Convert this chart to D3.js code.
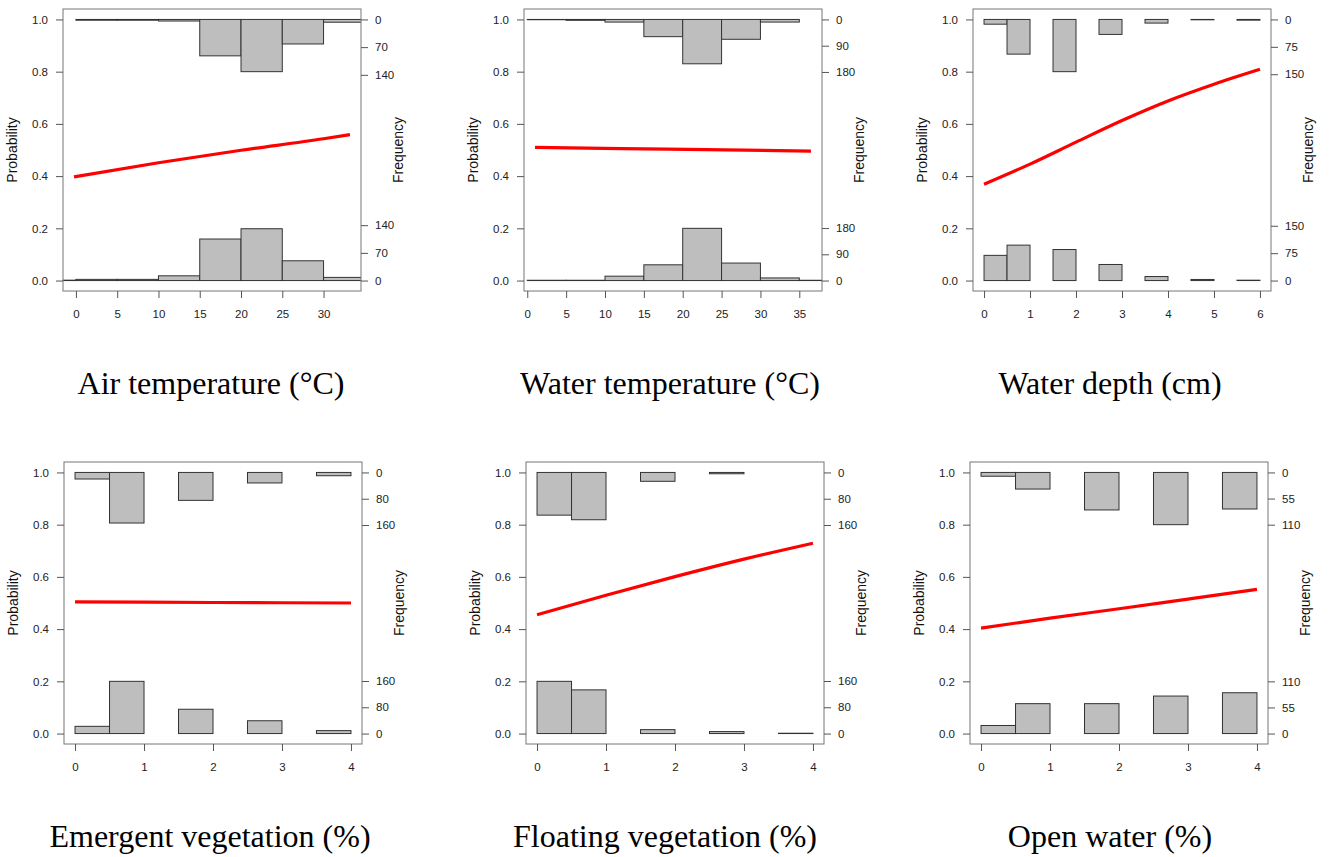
<!DOCTYPE html>
<html>
<head>
<meta charset="utf-8">
<script src="https://cdn.jsdelivr.net/npm/d3@7/dist/d3.min.js"></script>
<style>
  body { margin: 0; background: #fff; }
  text { font-family: "Liberation Sans", Arial, sans-serif; }
</style>
</head>
<body>
<svg id="chart" width="1330" height="857"></svg>
<script>
/*********************
	Data
**********************/
var titles = ["Air temperature (\u00B0C)", "Water temperature (\u00B0C)", "Water depth (cm)",
              "Emergent vegetation (%)", "Floating vegetation (%)", "Open water (%)"];

// min / max of the predictor (sets the x range like R does)
var dataRange = [[-0.23, 33.2], [1.0, 36.5], [0, 6], [0, 4], [0, 4], [0, 4]];

var breaks1 = [-5, 0, 5, 10, 15, 20, 25, 30, 35];
var breaks2 = [0, 5, 10, 15, 20, 25, 30, 35, 40];
var breaks3 = [0, 0.5, 1, 1.5, 2, 2.5, 3, 3.5, 4, 4.5, 5, 5.5, 6];
var breaks4 = [0, 0.5, 1, 1.5, 2, 2.5, 3, 3.5, 4];

// counts of absences (bottom histogram) and presences (top histogram)
var absent1 = [1, 3, 3, 12, 105, 131, 50, 8];
var present1 = [0, 2, 2, 4, 92, 132, 62, 7];
var absent2 = [1, 1, 15, 54, 179, 60, 9, 1];
var present2 = [1, 3, 9, 59, 152, 68, 9, 0];
var absent3 = [69, 97, 0, 85, 0, 44, 0, 11, 0, 3, 0, 1];
var present3 = [13, 95, 0, 143, 0, 41, 0, 10, 0, 1, 0, 2];
var absent4 = [22, 159, 0, 74, 0, 39, 0, 9];
var present4 = [20, 154, 0, 85, 0, 32, 0, 10];
var absent5 = [159, 133, 0, 12, 0, 6, 0, 1];
var present5 = [130, 144, 0, 27, 0, 4, 0, 0];
var absent6 = [17, 63, 0, 63, 0, 79, 0, 86];
var present6 = [8, 35, 0, 79, 0, 110, 0, 77];

// fitted probability curve
var curveX1 = [-0.23, 10, 20, 30, 33.2];
var curveP1 = [0.397, 0.451, 0.499, 0.543, 0.559];
var curveX2 = [1.0, 18, 36.5];
var curveP2 = [0.510, 0.503, 0.496];
var curveX3 = [0, 1, 2, 3, 4, 5, 6];
var curveP3 = [0.369, 0.446, 0.530, 0.613, 0.688, 0.752, 0.809];
var curveX4 = [0, 2, 4];
var curveP4 = [0.504, 0.502, 0.500];
var curveX5 = [0, 1, 2, 3, 4];
var curveP5 = [0.455, 0.530, 0.601, 0.668, 0.729];
var curveX6 = [0, 1, 2, 3, 4];
var curveP6 = [0.404, 0.442, 0.478, 0.515, 0.552];

var xTicks1 = [0, 5, 10, 15, 20, 25, 30];
var xTicks2 = [0, 5, 10, 15, 20, 25, 30, 35];
var xTicks3 = [0, 1, 2, 3, 4, 5, 6];
var xTicks4 = [0, 1, 2, 3, 4];
var yTicks = [0, 0.2, 0.4, 0.6, 0.8, 1.0];

/*********************
	Layout
**********************/
var W = 298, H = 282;
var panels = [
	{left: 63, top: 9, breaks: breaks1, absent: absent1, present: present1, cx: curveX1, cp: curveP1, ticks: xTicks1, tx: 211, ty: 394},
	{left: 524, top: 9, breaks: breaks2, absent: absent2, present: present2, cx: curveX2, cp: curveP2, ticks: xTicks2, tx: 670, ty: 394},
	{left: 973, top: 9, breaks: breaks3, absent: absent3, present: present3, cx: curveX3, cp: curveP3, ticks: xTicks3, tx: 1110, ty: 394},
	{left: 64, top: 462, breaks: breaks4, absent: absent4, present: present4, cx: curveX4, cp: curveP4, ticks: xTicks4, tx: 210, ty: 847},
	{left: 526, top: 462, breaks: breaks4, absent: absent5, present: present5, cx: curveX5, cp: curveP5, ticks: xTicks4, tx: 665, ty: 847},
	{left: 970, top: 462, breaks: breaks4, absent: absent6, present: present6, cx: curveX6, cp: curveP6, ticks: xTicks4, tx: 1110, ty: 847}
];

var svg = d3.select("#chart");
var scaleHist = 5;

panels.forEach(function(p, k) {
	var lo = dataRange[k][0], hi = dataRange[k][1], r = hi - lo;
	var xs = d3.scaleLinear().domain([lo - 0.04 * r, hi + 0.04 * r]).range([0, W]);
	var ys = d3.scaleLinear().domain([-0.04, 1.04]).range([H, 0]);
	var g = svg.append("g").attr("transform", "translate(" + p.left + "," + p.top + ")");

	g.append("clipPath").attr("id", "clip" + k)
		.append("rect").attr("width", W).attr("height", H);

	var tope = d3.max(p.absent.concat(p.present));
	var bins = p.absent.map(function(c, i) {
		return {x0: p.breaks[i], x1: p.breaks[i + 1], a: c, p: p.present[i]};
	});

	var hist = g.append("g").attr("clip-path", "url(#clip" + k + ")");
	// absences, from 0 upward
	hist.selectAll("rect.abs").data(bins.filter(function(b) { return b.a > 0; }))
		.enter().append("rect").attr("class", "abs")
		.attr("x", function(b) { return xs(b.x0); })
		.attr("width", function(b) { return xs(b.x1) - xs(b.x0); })
		.attr("y", function(b) { return ys(b.a / (tope * scaleHist)); })
		.attr("height", function(b) { return ys(0) - ys(b.a / (tope * scaleHist)); })
		.attr("fill", "#bebebe").attr("stroke", "#333").attr("stroke-width", 1);
	// presences, from 1 downward
	hist.selectAll("rect.pre").data(bins.filter(function(b) { return b.p > 0; }))
		.enter().append("rect").attr("class", "pre")
		.attr("x", function(b) { return xs(b.x0); })
		.attr("width", function(b) { return xs(b.x1) - xs(b.x0); })
		.attr("y", ys(1))
		.attr("height", function(b) { return ys(1 - b.p / (tope * scaleHist)) - ys(1); })
		.attr("fill", "#bebebe").attr("stroke", "#333").attr("stroke-width", 1);

	// fitted curve
	var line = d3.line()
		.x(function(d, i) { return xs(p.cx[i]); })
		.y(function(d) { return ys(d); })
		.curve(d3.curveMonotoneX);
	g.append("path").datum(p.cp).attr("d", line)
		.attr("fill", "none").attr("stroke", "#ff0000").attr("stroke-width", 3.2);

	// box
	g.append("rect").attr("width", W).attr("height", H)
		.attr("fill", "none").attr("stroke", "#777").attr("stroke-width", 1);

	// axes
	var ax = g.append("g").attr("transform", "translate(0," + H + ")")
		.call(d3.axisBottom(xs).tickValues(p.ticks).tickFormat(d3.format("d")).tickSize(7).tickPadding(12));
	var ayl = g.append("g")
		.call(d3.axisLeft(ys).tickValues(yTicks).tickFormat(d3.format(".1f")).tickSize(7).tickPadding(8));

	var step = Math.ceil(tope / 10);
	var labDown = [0, step * 5, step * 10];
	var labUp = [step * 10, step * 5, 0];
	var at = labDown.map(function(l) { return l / (tope * scaleHist); })
		.concat(labUp.map(function(l) { return 1 - l / (tope * scaleHist); }));
	var labs = labDown.concat(labUp);
	var ayr = g.append("g").attr("transform", "translate(" + W + ",0)")
		.call(d3.axisRight(ys).tickValues(at).tickFormat(function(d, i) { return labs[i]; }).tickSize(7).tickPadding(7));

	[ax, ayl, ayr].forEach(function(a) {
		a.select(".domain").remove();
		a.selectAll(".tick line").attr("stroke", "#555");
		a.selectAll(".tick text").attr("fill", "#222").style("font-size", "11.5px")
			.style("font-family", "'Liberation Sans', Arial, sans-serif");
	});

	g.append("text").attr("transform", "translate(-51," + (H / 2) + ") rotate(-90)")
		.attr("text-anchor", "middle").attr("dominant-baseline", "central")
		.style("font-size", "14px").attr("fill", "#111").text("Probability");
	g.append("text").attr("transform", "translate(" + (W + 37) + "," + (H / 2) + ") rotate(-90)")
		.attr("text-anchor", "middle").attr("dominant-baseline", "central")
		.style("font-size", "14px").attr("fill", "#111").text("Frequency");

	svg.append("text").attr("x", p.tx).attr("y", p.ty).attr("text-anchor", "middle")
		.style("font-family", "'Liberation Serif', 'Times New Roman', serif").style("font-size", "32px")
		.attr("fill", "#000").text(titles[k]);
});
</script>
</body>
</html>
